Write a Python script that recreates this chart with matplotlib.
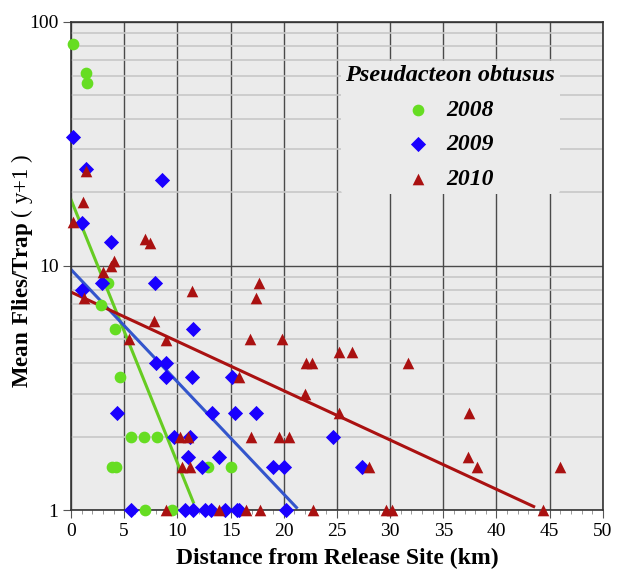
import matplotlib.pyplot as plt
import numpy as np
from matplotlib.ticker import FixedLocator, NullFormatter, MultipleLocator

# mean flies per trap (y+1) vs distance from release site (km)
x2008 = [0.2, 1.4, 1.5, 3.5, 2.8, 4.1, 4.6, 5.6, 6.9, 8.1, 3.9, 4.2, 12.9, 15.0, 7.0, 9.5]
y2008 = [81, 62, 56, 8.5, 6.9, 5.5, 3.5, 2.0, 2.0, 2.0, 1.5, 1.5, 1.5, 1.5, 1.0, 1.0]

x2009 = [0.2, 1.4, 8.6, 1.0, 3.8, 1.0, 2.9, 7.9, 11.5, 8.0, 8.9, 8.9, 11.4, 4.3, 13.3,
         9.7, 11.2, 11.0, 13.9, 12.3, 15.1, 15.4, 17.4, 24.6, 19.0, 20.0, 27.4,
         5.6, 10.75, 11.5, 12.6, 13.2, 14.5, 15.6, 15.8, 20.2]
y2009 = [33.7, 24.9, 22.4, 15, 12.5, 8.0, 8.5, 8.5, 5.5, 4.0, 4.0, 3.5, 3.5, 2.5, 2.5,
         2.0, 2.0, 1.65, 1.65, 1.5, 3.5, 2.5, 2.5, 2.0, 1.5, 1.5, 1.5,
         1, 1, 1, 1, 1, 1, 1, 1, 1]

x2010 = [1.4, 1.1, 0.2, 7.0, 7.4, 4.0, 3.8, 3.0, 1.25, 11.4, 7.8, 5.5, 8.9, 10.25, 11.0,
         10.4, 11.2, 8.9, 17.7, 17.4, 16.8, 19.8, 22.1, 22.7, 25.2, 26.4, 15.8, 22.0,
         25.2, 16.9, 19.6, 20.5, 28.0, 13.95, 16.5, 17.8, 22.8, 29.6, 30.2, 31.7,
         37.4, 37.3, 38.2, 46.0, 44.4]
y2010 = [24.5, 18.3, 15.2, 12.9, 12.4, 10.5, 10.0, 9.4, 7.4, 7.9, 5.95, 5.0, 4.95, 2.0, 2.0,
         1.5, 1.5, 1, 8.5, 7.4, 5.0, 5.0, 4.0, 4.0, 4.45, 4.45, 3.5, 3.0,
         2.5, 2.0, 2.0, 2.0, 1.5, 1, 1, 1, 1, 1, 1, 4.0,
         2.5, 1.65, 1.5, 1.5, 1]

# fitted lines: log10(y) = a + b*x, drawn over [x0, x1]
fit2008 = (1.272, -0.1078, 0.0, 11.5)
fit2009 = (0.9855, -0.046, 0.0, 21.2)
fit2010 = (0.893, -0.0202, 0.0, 43.5)

plt.rcParams['font.family'] = 'Liberation Serif'
plt.rcParams['mathtext.fontset'] = 'custom'
plt.rcParams['mathtext.rm'] = 'Liberation Serif'
plt.rcParams['mathtext.bf'] = 'Liberation Serif:bold'

fig = plt.figure(figsize=(6.17, 5.75), dpi=100)
ax = fig.add_axes([0.115, 0.113, 0.862, 0.849])
ax.set_facecolor('#ebebeb')

ax.set_yscale('log')
ax.set_xlim(0, 50)
ax.set_ylim(1, 100)

ax.yaxis.set_major_locator(FixedLocator([1, 10, 100]))
ax.yaxis.set_major_formatter(plt.FuncFormatter(lambda v, p: '%d' % v))
ax.yaxis.set_minor_locator(FixedLocator([k * d for d in (1, 10) for k in range(2, 10)]))
ax.yaxis.set_minor_formatter(NullFormatter())
ax.xaxis.set_major_locator(MultipleLocator(5))
ax.xaxis.set_minor_locator(MultipleLocator(1))

ax.grid(True, which='major', color='#4a4a4a', lw=1.0)
ax.grid(True, which='minor', axis='y', color='#c8c8c8', lw=1.2)
ax.set_axisbelow(True)
for s in ax.spines.values():
    s.set_color('#333333')
    s.set_linewidth(1.2)

ax.tick_params(which='major', direction='out', length=6, color='#555555', labelsize=14, pad=3)
ax.tick_params(which='minor', direction='out', length=3, color='#888888')
ax.tick_params(axis='y', which='minor', length=0)

for (a, b, x0, x1), c in [(fit2008, '#66cc22'), (fit2009, '#3355cc'), (fit2010, '#aa1111')]:
    xs = np.array([x0, x1])
    ax.plot(xs, 10 ** (a + b * xs), color=c, lw=2.2, zorder=2)

ax.scatter(x2008, y2008, s=55, marker='o', color='#66dd22', zorder=3, clip_on=False, label='2008')
ax.scatter(x2009, y2009, s=60, marker='D', color='#1a00ff', zorder=3, clip_on=False,
           label='2009', linewidths=0)
ax.scatter(x2010, y2010, s=70, marker='^', color='#aa1111', zorder=3, clip_on=False,
           label='2010', linewidths=0)

leg = ax.legend(loc='upper center', bbox_to_anchor=(0.713, 0.945), frameon=True,
                facecolor='#ebebeb', edgecolor='none', framealpha=1,
                prop={'family': 'Liberation Serif', 'weight': 'bold', 'style': 'italic', 'size': 17},
                title='Pseudacteon obtusus',
                title_fontproperties={'family': 'Liberation Serif', 'weight': 'bold',
                                      'style': 'italic', 'size': 17.5},
                labelspacing=0.55, handlelength=1.0, handletextpad=0.7,
                borderpad=0.2, scatterpoints=1)

ax.set_xlabel('Distance from Release Site (km)', fontsize=17, fontweight='bold', labelpad=6)
ax.set_ylabel(r'$\mathbf{Mean\ Flies/Trap}$ ( y+1 )', fontsize=16.5)
ax.yaxis.set_label_coords(-0.068, 0.49)

fig.savefig('out.png', dpi=100)
